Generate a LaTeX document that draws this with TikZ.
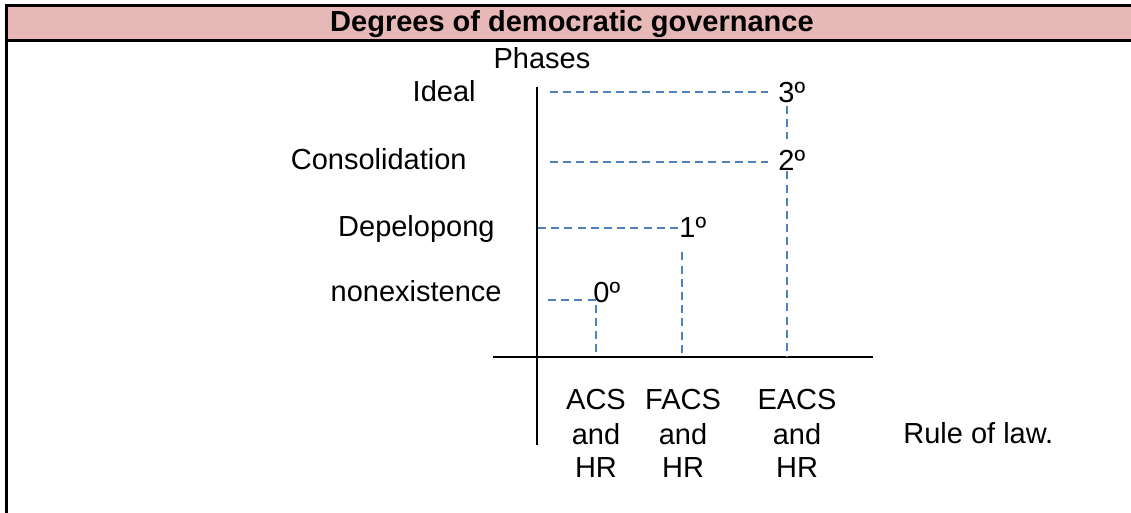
\documentclass[tikz,border=0pt]{standalone}
\usepackage{fontspec}
\setmainfont{Liberation Sans}
\usetikzlibrary{positioning}
\definecolor{headpink}{HTML}{E6B8B7}
\definecolor{guideblue}{HTML}{4F81BD}

\begin{document}
\begin{tikzpicture}[x=0.5pt, y=-0.5pt,
		every node/.style={inner sep=0pt, font=\fontsize{14.5}{17}\selectfont},
		frameline/.style={black, line width=1.5pt},
		axisline/.style={black, line width=0.8pt},
		guide/.style={guideblue, line width=0.9pt, dash pattern=on 4pt off 2.6pt},
		phase/.style={anchor=base east},
		degree/.style={anchor=base west},
		pillar/.style={anchor=base, align=center}]
	\useasboundingbox (0,0) rectangle (1131,513);
	% heading band
	\fill[headpink] (6,6) rectangle (1140,41);
	\draw[frameline] (1140,6) -- (6,6) -- (6,520);
	\draw[frameline] (6,41) -- (1140,41);
	\node[anchor=base, font=\fontsize{14.5}{17}\selectfont\bfseries] (title) at (572,32) {Degrees of democratic governance};
	% axes
	\coordinate (ytop) at (537,87);
	\coordinate (ybot) at (537,445);
	\coordinate (xleft) at (493,357);
	\coordinate (xright) at (873,357);
	\draw[axisline] (ytop) -- (ybot);
	\draw[axisline] (xleft) -- (xright);
	\node[anchor=base] (phases) at (542,69) {Phases};
	% phases on the vertical axis
	\node[phase] (ideal) at (476,102) {Ideal};
	\node[phase] (consol) at (467,170) {Consolidation};
	\node[phase] (devel) at (495,237) {Depelopong};
	\node[phase] (nonex) at (502,302) {nonexistence};
	% degrees
	\node[degree] (g3) at (778,103) {3º};
	\node[degree] (g2) at (778,171) {2º};
	\node[degree] (g1) at (679,238) {1º};
	\node[degree] (g0) at (593,303) {0º};
	% foot of each degree on the horizontal axis
	\coordinate (col0) at (596,357);
	\coordinate (col1) at (682,357);
	\coordinate (col3) at (787,357);
	\coordinate (c3) at (550,92);
	\coordinate (c2) at (550,162);
	\coordinate (c1) at (538,228);
	\coordinate (c0) at (548,300);
	\coordinate (k0) at (596,300);
	\draw[guide, shorten >=5pt] (c3) -- (g3.west |- c3);
	\draw[guide, shorten >=5pt] (c2) -- (g2.west |- c2);
	\draw[guide] (c1) -- (g1.west |- c1);
	\draw[guide] (c0) -- (k0) -- (col0);
	\draw[guide, shorten <=1pt, shorten >=5.5pt] (col3 |- g3.south) -- (col3 |- g2.north);
	\draw[guide] (col3 |- g2.south) -- (col3);
	\draw[guide, shorten <=7pt] (col1 |- g1.south) -- (col1);
	% pillars on the horizontal axis (base is the last line)
	\node[pillar] (acs) at (596,478) {ACS\\and\\HR};
	\node[pillar] (facs) at (683,478) {FACS\\and\\HR};
	\node[pillar] (eacs) at (797,478) {EACS\\and\\HR};
	\node[anchor=base west] (law) at (903,444) {Rule of law.};
\end{tikzpicture}
\end{document}
